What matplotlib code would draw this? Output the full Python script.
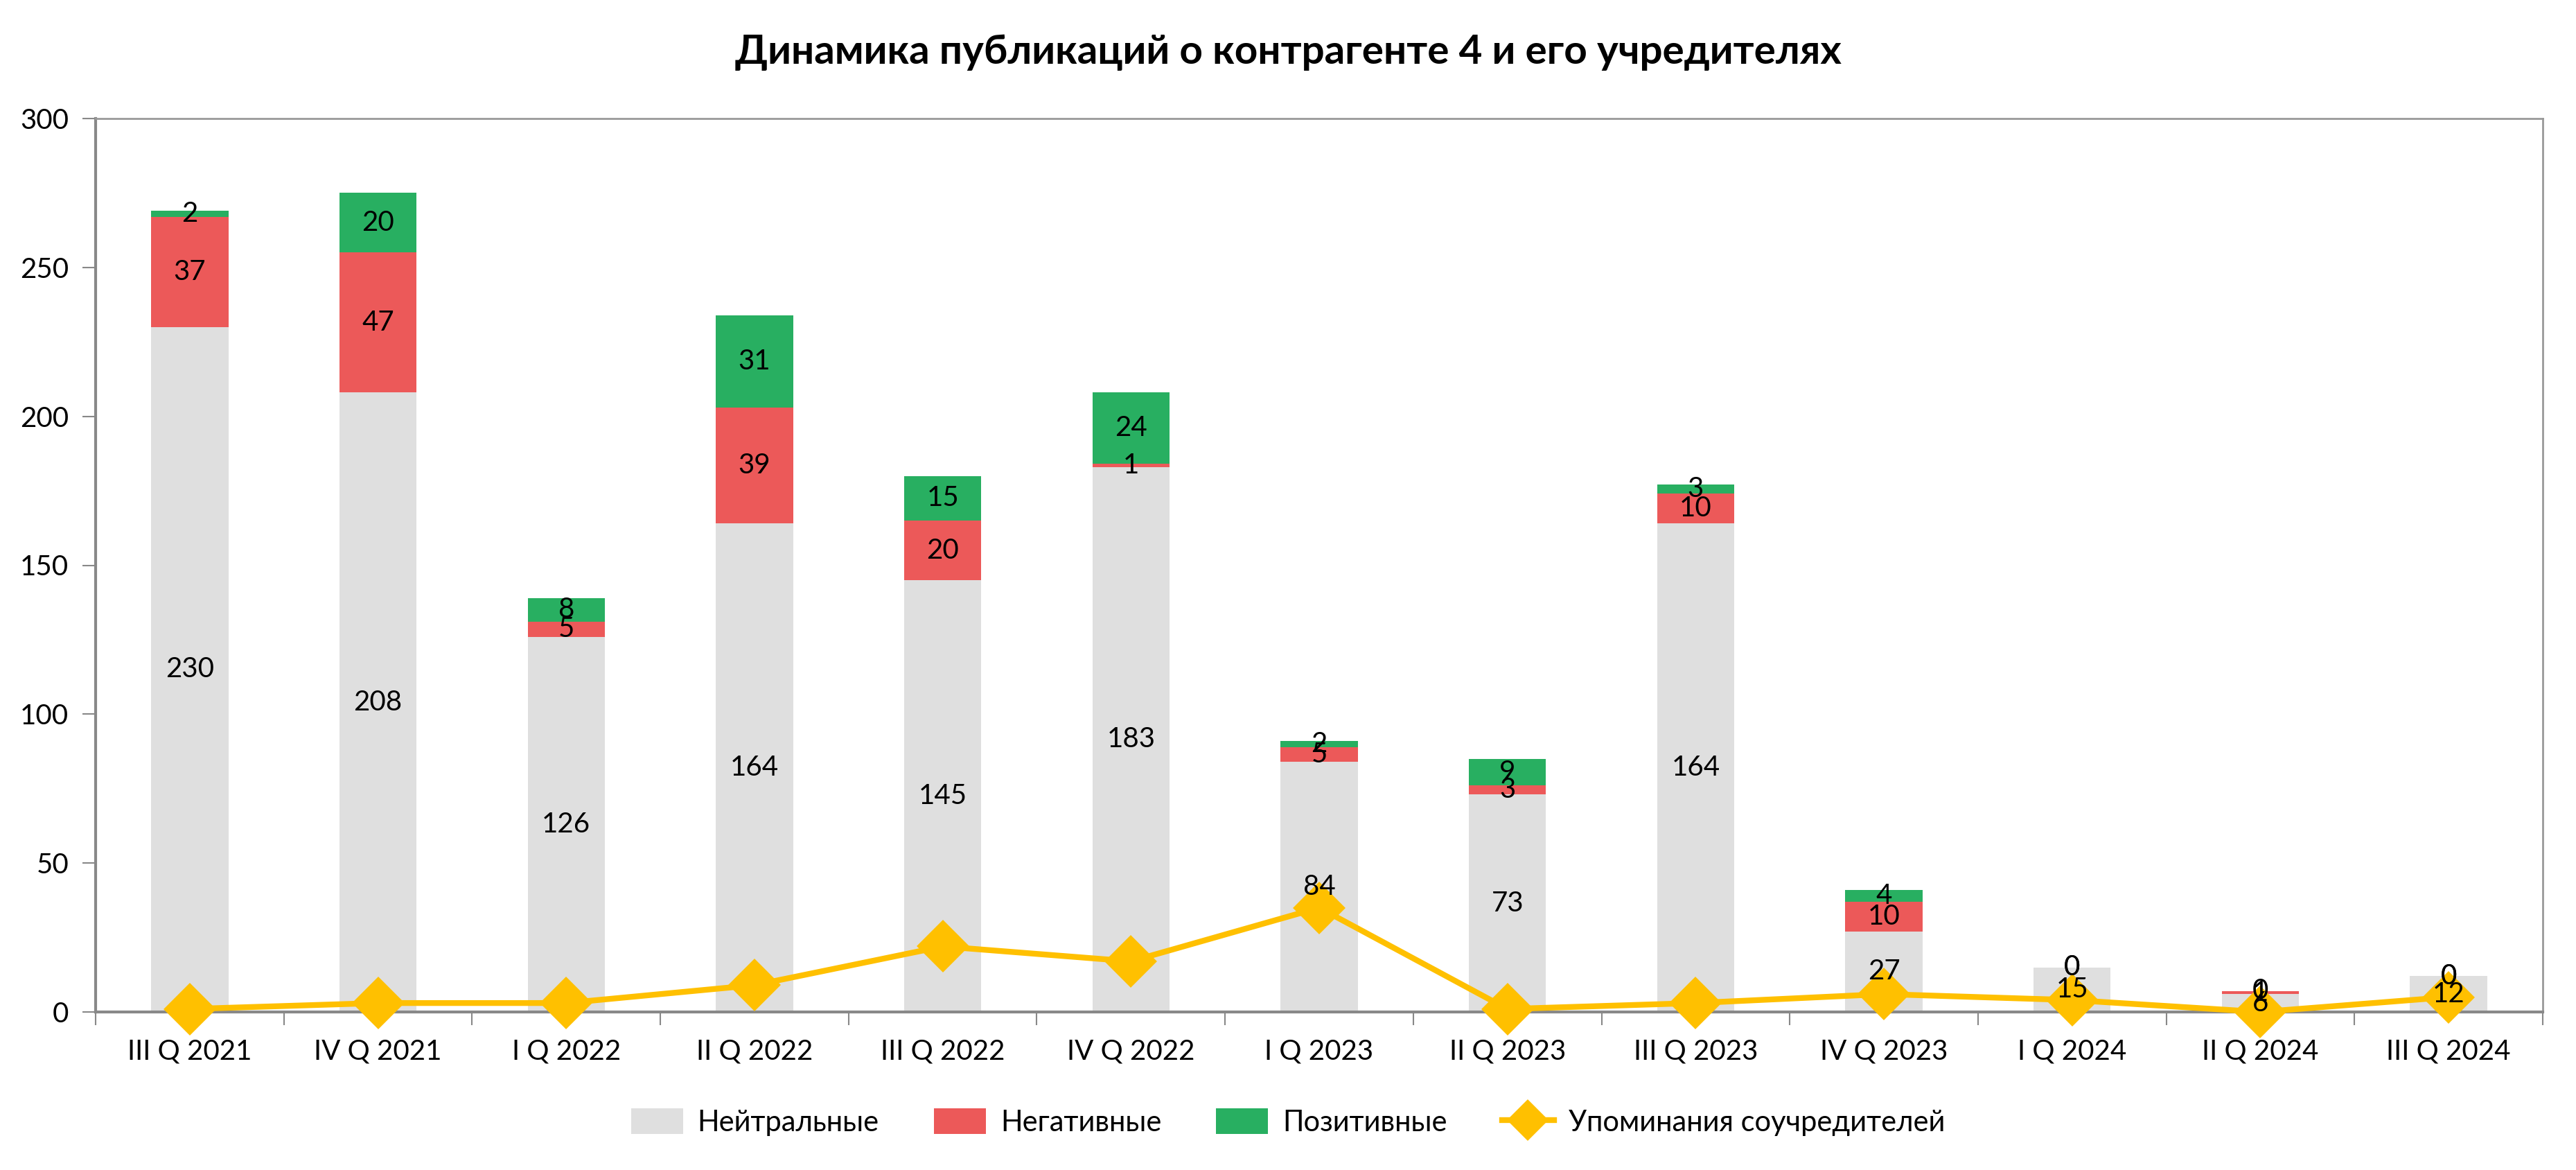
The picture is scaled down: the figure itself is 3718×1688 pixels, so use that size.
import numpy as np
import matplotlib.pyplot as plt
from matplotlib.ticker import MultipleLocator, FixedLocator

plt.rcParams['font.family'] = ['Lato', 'DejaVu Sans']

# данные
quarters = ['III Q 2021', 'IV Q 2021', 'I Q 2022', 'II Q 2022', 'III Q 2022', 'IV Q 2022',
            'I Q 2023', 'II Q 2023', 'III Q 2023', 'IV Q 2023', 'I Q 2024', 'II Q 2024', 'III Q 2024']
neutral = [230, 208, 126, 164, 145, 183, 84, 73, 164, 27, 15, 6, 12]
negative = [37, 47, 5, 39, 20, 1, 5, 3, 10, 10, 0, 1, 0]
positive = [2, 20, 8, 31, 15, 24, 2, 9, 3, 4, 0, 0, 0]
cofounders = [1, 3, 3, 9, 22, 17, 35, 1, 3, 6, 4, 0, 5]

c_neu = '#DFDFDF'
c_neg = '#EC5959'
c_pos = '#28AF61'
c_line = '#FFC000'

fig = plt.figure(figsize=(37.18, 16.88), dpi=100)
ax = fig.add_axes([138 / 3718, 1 - 1460 / 1688, (3670 - 138) / 3718, (1460 - 171) / 1688])

x = np.arange(len(quarters))
neutral = np.array(neutral)
negative = np.array(negative)
positive = np.array(positive)
w = 0.41

b1 = ax.bar(x, neutral, w, color=c_neu, label='Нейтральные', zorder=2)
b2 = ax.bar(x, negative, w, bottom=neutral, color=c_neg, label='Негативные', zorder=2)
b3 = ax.bar(x, positive, w, bottom=neutral + negative, color=c_pos, label='Позитивные', zorder=2)
ln, = ax.plot(x, cofounders, color=c_line, lw=6, marker='D', markersize=36,
              markeredgewidth=3, markeredgecolor=c_line, label='Упоминания соучредителей',
              zorder=3, clip_on=False)

# подписи значений в центре сегментов
for vals, bottoms in [(neutral, np.zeros_like(neutral)),
                      (negative, neutral),
                      (positive, neutral + negative)]:
    for xi, v, b in zip(x, vals, bottoms):
        ax.text(xi, b + v / 2, str(v), ha='center', va='center', fontsize=29, zorder=4)

ax.set_xlim(-0.5, len(quarters) - 0.5)
ax.set_ylim(0, 300)
ax.yaxis.set_major_locator(MultipleLocator(50))
ax.set_xticks(x)
ax.set_xticklabels(quarters)
ax.xaxis.set_minor_locator(FixedLocator(np.arange(-0.5, len(quarters), 1)))
ax.tick_params(axis='x', which='major', length=0, labelsize=29, pad=28)
ax.tick_params(axis='x', which='minor', length=14, width=1.5, color='#888888')
ax.tick_params(axis='y', length=14, width=1.5, color='#888888', labelsize=29, pad=14)

for s in ['left', 'bottom']:
    ax.spines[s].set_color('#888888')
    ax.spines[s].set_linewidth(3)
for s in ['top', 'right']:
    ax.spines[s].set_color('#999999')
    ax.spines[s].set_linewidth(2)

fig.text(0.5, 1 - 76 / 1688, 'Динамика публикаций о контрагенте 4 и его учредителях',
         ha='center', va='center', fontsize=42, fontweight='bold')

fig.legend(handles=[b1, b2, b3, ln], loc='center', bbox_to_anchor=(0.5, 1 - 1619 / 1688),
           ncol=4, frameon=False, fontsize=30, handlelength=1.8, handleheight=1.0,
           columnspacing=1.9, handletextpad=0.5, markerscale=0.75)

fig.savefig('out.png', dpi=100)
